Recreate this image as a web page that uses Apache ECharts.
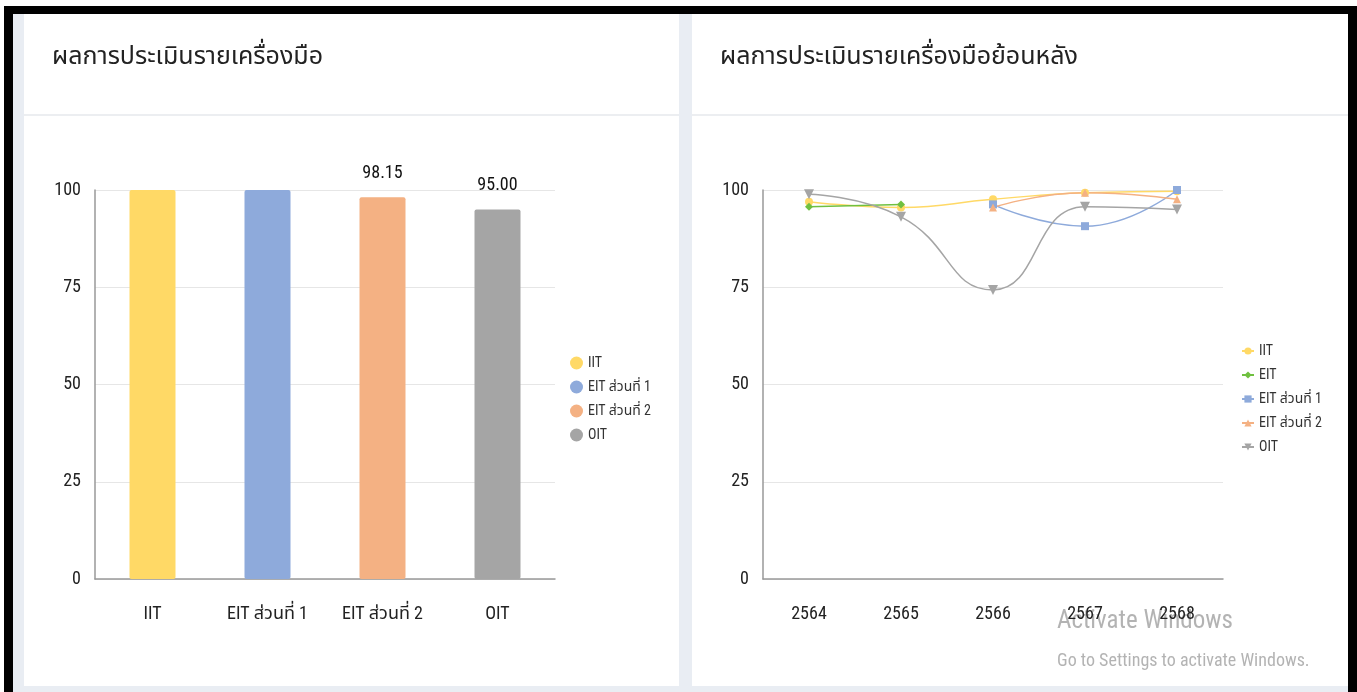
<!DOCTYPE html>
<html><head><meta charset="utf-8">
<script src="https://cdn.jsdelivr.net/npm/echarts@6/dist/echarts.min.js"></script>
<style>
html,body{margin:0;padding:0;width:1357px;height:692px;overflow:hidden;background:#fff;}
#frame{position:absolute;left:4px;top:6px;width:1353px;height:686px;background:#000;}
#inner{position:absolute;left:13px;top:14px;width:1335px;height:678px;background:#e9edf3;}
.card{position:absolute;top:14px;height:672px;background:#fff;}
.hdr{position:absolute;left:0;right:0;top:100px;height:2px;background:#eceef1;}
#chart{position:absolute;left:0;top:0;width:1357px;height:692px;}
</style></head>
<body>
<div id="frame"></div>
<div id="inner"></div>
<div class="card" style="left:24px;width:655px;"><div class="hdr"></div></div>
<div class="card" style="left:692px;width:656px;"><div class="hdr"></div></div>
<div id="chart"></div>
<script>
const FONT = '"Roboto Condensed", "Noto Sans Thai Condensed", "Noto Sans Thai", sans-serif';
const barCategories = ['IIT', 'EIT ส่วนที่ 1', 'EIT ส่วนที่ 2', 'OIT'];
const barValues = [100, 100, 98.15, 95.00];
const barColors = ['#ffd966', '#8eaadb', '#f4b183', '#a5a5a5'];
const barLabelShown = [false, false, true, true];

const years = ['2564', '2565', '2566', '2567', '2568'];
const lineNames = ['IIT', 'EIT', 'EIT ส่วนที่ 1', 'EIT ส่วนที่ 2', 'OIT'];
const iitValues = [97.0, 95.5, 97.6, 99.3, 99.7];
const eitValues = [95.7, 96.3, null, null, null];
const eit1Values = [null, null, 96.3, 90.7, 100];
const eit2Values = [null, null, 95.5, 99.3, 97.6];
const oitValues = [98.9, 93.1, 74.3, 95.7, 95.0];
const lineColors = ['#ffd966', '#70c040', '#8eaadb', '#f4b183', '#a5a5a5'];
const lineSymbols = ['circle', 'diamond', 'rect', 'triangle', 'path://M0,0 L10,0 L5,9 Z'];

const lineData = [iitValues, eitValues, eit1Values, eit2Values, oitValues];

const chart = echarts.init(document.getElementById('chart'), null, {renderer: 'canvas'});

const axisLabelStyle = {color: '#222', fontSize: 18, fontFamily: FONT};

const option = {
  animation: false,
  textStyle: {fontFamily: FONT},
  title: [
    {text: 'ผลการประเมินรายเครื่องมือ', left: 47, top: 40, textStyle: {fontSize: 25, fontWeight: 'normal', color: '#222', fontFamily: FONT}},
    {text: 'ผลการประเมินรายเครื่องมือย้อนหลัง', left: 715, top: 40, textStyle: {fontSize: 25, fontWeight: 'normal', color: '#222', fontFamily: FONT}}
  ],
  grid: [
    {left: 95, top: 190, width: 460, height: 389},
    {left: 763, top: 190, width: 460, height: 389}
  ],
  legend: [
    {orient: 'vertical', left: 565, top: 351, itemGap: 10, itemWidth: 13, itemHeight: 13,
     icon: 'circle', textStyle: {fontSize: 14, color: '#333', fontFamily: FONT},
     data: barCategories},
    {orient: 'vertical', left: 1236, top: 339, itemGap: 10, itemWidth: 12, itemHeight: 9,
     textStyle: {fontSize: 14, color: '#333', fontFamily: FONT},
     data: lineNames.map((n, i) => ({name: 'L_' + i}))
    }
  ],
  xAxis: [
    {gridIndex: 0, type: 'category', data: barCategories,
     axisLine: {lineStyle: {color: '#999', width: 1.5}}, axisTick: {show: false},
     axisLabel: Object.assign({margin: 26}, axisLabelStyle)},
    {gridIndex: 1, type: 'category', data: years,
     axisLine: {lineStyle: {color: '#999', width: 1.5}}, axisTick: {show: false},
     axisLabel: Object.assign({margin: 26}, axisLabelStyle)}
  ],
  yAxis: [
    {gridIndex: 0, type: 'value', min: 0, max: 100, interval: 25,
     axisLine: {show: true, lineStyle: {color: '#999', width: 1.5}}, axisTick: {show: false},
     splitLine: {lineStyle: {color: '#e6e6e6'}},
     axisLabel: Object.assign({margin: 14}, axisLabelStyle)},
    {gridIndex: 1, type: 'value', min: 0, max: 100, interval: 25,
     axisLine: {show: true, lineStyle: {color: '#999', width: 1.5}}, axisTick: {show: false},
     splitLine: {lineStyle: {color: '#e6e6e6'}},
     axisLabel: Object.assign({margin: 14}, axisLabelStyle)}
  ],
  graphic: [
    {type: 'text', left: 1057, top: 609, silent: true,
     style: {text: 'Activate Windows', fontSize: 25, fill: 'rgba(160,160,160,0.8)', fontFamily: FONT}},
    {type: 'text', left: 1057, top: 652, silent: true,
     style: {text: 'Go to Settings to activate Windows.', fontSize: 18, fill: 'rgba(160,160,160,0.8)', fontFamily: FONT}}
  ],
  series: []
};

barCategories.forEach((cat, i) => {
  option.series.push({
    name: cat, type: 'bar', xAxisIndex: 0, yAxisIndex: 0, stack: 'b',
    barWidth: 46,
    itemStyle: {color: barColors[i], borderRadius: 2},
    label: {show: barLabelShown[i], position: 'top', distance: 15, color: '#111', fontSize: 18,
            fontFamily: FONT, formatter: p => p.value.toFixed(2)},
    data: barCategories.map((c, j) => j === i ? barValues[i] : null)
  });
});

lineNames.forEach((n, i) => {
  option.series.push({
    name: 'L_' + i, type: 'line', xAxisIndex: 1, yAxisIndex: 1,
    smooth: true, connectNulls: false,
    symbol: lineSymbols[i], symbolSize: i === 4 ? 10 : 8,
    lineStyle: {color: lineColors[i], width: 1.5},
    itemStyle: {color: lineColors[i]},
    data: lineData[i]
  });
});

option.legend[1].formatter = name => lineNames[+name.slice(2)];

chart.setOption(option);
</script>
</body></html>
